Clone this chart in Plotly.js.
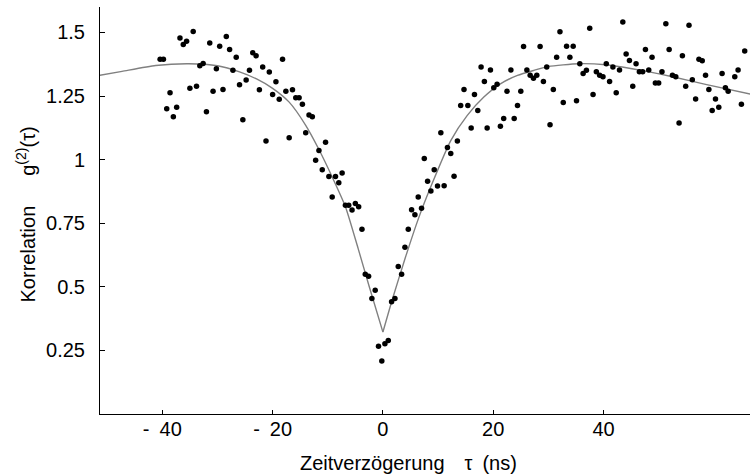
<!DOCTYPE html>
<html>
<head>
<meta charset="utf-8">
<script src="https://cdn.plot.ly/plotly-3.0.1.min.js"></script>
<style>html,body{margin:0;padding:0;background:#fff;}#chart{width:750px;height:475px;}</style>
</head>
<body>
<div id="chart"></div>
<script>
// Measured coincidence data: delay tau (ns) and g2 values
const tauLeft = [-40.4,-39.8,-39.2,-38.6,-38.0,-37.4,-36.8,-36.2,-35.6,-35.0,-34.4,-33.8,-33.2,-32.6,-32.0,-31.4,-30.8,-30.2,-29.6,-29.0,
  -28.4,-27.8,-27.2,-26.6,-26.0,-25.4,-24.8,-24.2,-23.6,-23.0,-22.4,-21.8,-21.2,-20.6,-20.0,-19.4,-18.8,-18.2,-17.6,-17.0,
  -16.4,-15.8,-15.2,-14.6,-14.0,-13.4,-12.8,-12.2,-11.6,-11.0,-10.4,-9.8,-9.2,-8.6,-8.0,-7.4,-6.8,-6.2,-5.6,-5.0,
  -4.4,-3.8,-3.2,-2.6,-2.0,-1.4,-0.8,-0.2];
const g2Left = [1.395,1.395,1.200,1.263,1.169,1.206,1.478,1.453,1.465,1.281,1.504,1.288,1.369,1.378,1.188,1.458,1.269,1.357,1.446,1.276,
  1.484,1.433,1.351,1.402,1.294,1.157,1.313,1.351,1.420,1.408,1.275,1.364,1.073,1.344,1.256,1.306,1.237,1.395,1.269,1.086,
  1.275,1.243,1.243,1.218,1.106,1.175,1.169,0.998,1.036,0.960,1.068,0.934,0.853,0.934,0.909,0.947,0.821,0.821,0.802,0.828,
  0.815,0.726,0.549,0.542,0.454,0.486,0.266,0.208];
const tauRight = [0.36,0.97,1.57,2.18,2.78,3.39,3.99,4.6,5.2,5.8,6.4,7.0,7.5,8.1,8.7,9.3,9.9,10.5,11.1,11.7,
  12.3,12.9,13.5,14.1,14.7,15.4,16.0,16.6,17.2,17.8,18.4,18.9,19.5,20.1,20.7,21.3,21.9,22.5,23.2,23.8,
  24.4,25.0,25.5,26.1,26.7,27.3,27.9,28.5,29.1,29.7,30.3,30.9,31.5,32.1,32.7,33.3,33.9,34.5,35.1,35.7,
  36.3,36.9,37.5,38.1,38.7,39.3,39.9,40.5,41.1,41.7,42.3,42.9,43.5,44.1,44.7,45.3,45.9,46.5,47.1,47.6,
  48.2,48.8,49.4,50.0,50.6,51.3,51.9,52.5,53.1,53.7,54.3,54.9,55.5,56.1,56.7,57.3,57.9,58.5,59.1,59.7,
  60.3,60.9,61.5,62.1,62.6,63.8,64.4,65.0,65.6];
const g2Right = [0.276,0.289,0.441,0.454,0.580,0.549,0.656,0.726,0.803,0.783,
  0.853,0.809,1.004,0.915,0.877,0.960,0.896,1.106,0.897,1.048,
  1.024,0.935,1.073,1.213,1.276,1.213,1.124,1.256,1.193,1.364,
  1.307,1.124,1.352,1.283,1.296,1.131,1.162,1.269,1.352,1.162,
  1.213,1.269,1.445,1.352,1.332,1.320,1.332,1.445,1.307,1.364,
  1.137,1.276,1.402,1.503,1.225,1.446,1.402,1.446,1.231,1.377,
  1.339,1.351,1.516,1.256,1.345,1.332,1.326,1.377,1.307,1.364,
  1.263,1.352,1.541,1.415,1.390,1.288,1.377,1.345,1.345,1.433,
  1.352,1.402,1.301,1.301,1.345,1.534,1.433,1.332,1.326,1.144,
  1.408,1.288,1.528,1.314,1.238,1.395,1.389,1.332,1.276,1.193,
  1.238,1.206,1.339,1.283,1.269,1.326,1.352,1.218,1.427];

// Fit curve
const fitTau = [-51.4,-47.3,-41.2,-35.2,-30.0,-26.0,-23.0,-20.0,-17.0,-14.0,-11.6,-9.2,-6.8,-4.5,-2.5,0,
  1.7,4.1,6.5,8.9,12.3,15.3,18.3,21.3,24.4,27.4,30.0,35.5,40.4,43.4,47.6,52.5,58.5,66.6];
const fitG2 = [1.331,1.347,1.370,1.377,1.369,1.345,1.318,1.280,1.226,1.135,1.040,0.932,0.815,0.651,0.502,0.322,
  0.450,0.617,0.772,0.905,1.075,1.174,1.246,1.298,1.331,1.351,1.366,1.377,1.373,1.364,1.348,1.326,1.296,1.258];

const xTickVals = [-40,-20,0,20,40];
const xTickText = ["-\u200240","-\u200220","0","20","40"];
const yTickVals = [0.25,0.5,0.75,1,1.25,1.5];
const yTickText = ["0.25","0.5","0.75","1","1.25","1.5"];

const xTitle = "Zeitverz\u00f6gerung\u2003\u03c4\u2002(ns)";
const yTitle = "Korrelation\u2003\u2002g<sup>(2)</sup>(\u03c4)";

const FONT = "Liberation Sans, Arial, sans-serif";

// split curve at the cusp so the minimum stays sharp
const iCusp = fitTau.indexOf(0);
const traces = [
  {x: fitTau.slice(0, iCusp + 1), y: fitG2.slice(0, iCusp + 1), mode: 'lines',
   line: {color: '#808080', width: 1.4, shape: 'spline', smoothing: 0.6}, hoverinfo: 'skip', showlegend: false},
  {x: fitTau.slice(iCusp), y: fitG2.slice(iCusp), mode: 'lines',
   line: {color: '#808080', width: 1.4, shape: 'spline', smoothing: 0.6}, hoverinfo: 'skip', showlegend: false},
  {x: tauLeft.concat(tauRight), y: g2Left.concat(g2Right), mode: 'markers',
   marker: {color: '#000', size: 5.5}, showlegend: false}
];

const layout = {
  width: 750, height: 475,
  margin: {l: 100, r: 0, t: 7, b: 61},
  paper_bgcolor: '#fff', plot_bgcolor: '#fff',
  font: {family: FONT, size: 20, color: '#000'},
  showlegend: false,
  xaxis: {
    range: [-51.3, 66.56], showgrid: false, zeroline: false,
    showline: true, linecolor: '#000', linewidth: 1,
    ticks: 'inside', ticklen: 4, tickcolor: '#000', tickwidth: 1,
    tickvals: xTickVals, ticktext: xTickText,
    tickfont: {family: FONT, size: 20, color: '#000'},
    ticklabelstandoff: -3
  },
  yaxis: {
    range: [0, 1.6], showgrid: false, zeroline: false,
    showline: true, linecolor: '#000', linewidth: 1,
    ticks: 'inside', ticklen: 5, tickcolor: '#000', tickwidth: 1,
    tickvals: yTickVals, ticktext: yTickText,
    tickfont: {family: FONT, size: 20, color: '#000'},
    ticklabelstandoff: 10
  },
  annotations: [
    {text: xTitle, xref: 'paper', yref: 'paper', x: 0.475, y: 0, xanchor: 'center', yanchor: 'middle',
     yshift: -49, showarrow: false, font: {family: FONT, size: 20, color: '#000'}},
    {text: yTitle, xref: 'paper', yref: 'paper', x: -0.114, y: 0.49, xanchor: 'center', yanchor: 'middle',
     textangle: -90, showarrow: false, font: {family: FONT, size: 20, color: '#000'}}
  ]
};

Plotly.newPlot('chart', traces, layout, {staticPlot: true, displayModeBar: false});
</script>
</body>
</html>
